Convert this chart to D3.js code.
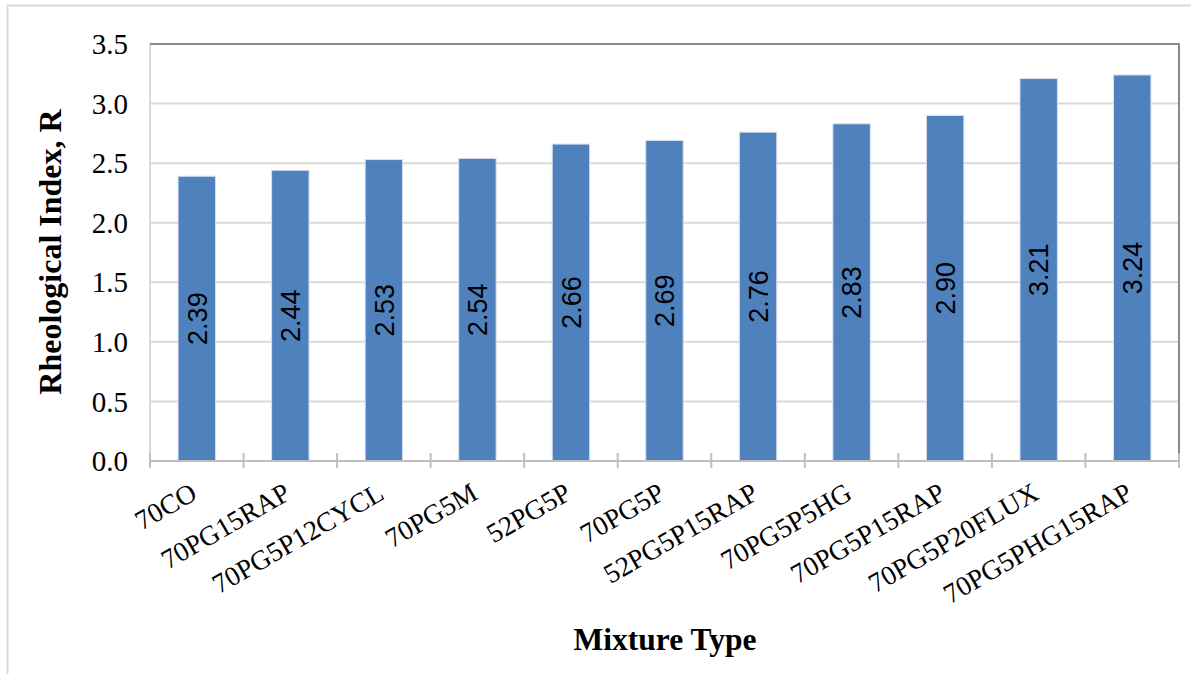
<!DOCTYPE html>
<html>
<head>
<meta charset="utf-8">
<script src="https://cdn.jsdelivr.net/npm/d3@7"></script>
<style>
  html, body { margin: 0; padding: 0; background: #fff; }
  svg { display: block; }
</style>
</head>
<body>
<svg id="chart" width="1191" height="674"></svg>
<script>
const categories = ["70CO", "70PG15RAP", "70PG5P12CYCL", "70PG5M", "52PG5P", "70PG5P", "52PG5P15RAP", "70PG5P5HG", "70PG5P15RAP", "70PG5P20FLUX", "70PG5PHG15RAP"];
const values = [2.39, 2.44, 2.53, 2.54, 2.66, 2.69, 2.76, 2.83, 2.90, 3.21, 3.24];
const yTicks = [0.0, 0.5, 1.0, 1.5, 2.0, 2.5, 3.0, 3.5];
const yTitle = "Rheological Index, R";
const xTitle = "Mixture Type";

const svg = d3.select("#chart");
const W = 1191, H = 674;
const plot = { left: 150, right: 1179, top: 44, bottom: 461 };

// outer chart border
svg.append("rect")
  .attr("x", 7.5).attr("y", 5.5)
  .attr("width", W + 20).attr("height", H + 20)
  .attr("fill", "#fff").attr("stroke", "#d9d9d9").attr("stroke-width", 2);

const x = d3.scaleBand().domain(categories)
  .range([plot.left, plot.right]).paddingInner(0.6).paddingOuter(0.3);
const xIdx = d3.scaleLinear().domain([0, categories.length]).range([plot.left, plot.right]);
const y = d3.scaleLinear().domain([0, 3.5]).range([plot.bottom, plot.top]);

// gridlines
svg.append("g").selectAll("line").data(yTicks.filter(t => t > 0 && t < 3.5)).join("line")
  .attr("x1", plot.left).attr("x2", plot.right)
  .attr("y1", d => y(d)).attr("y2", d => y(d))
  .attr("stroke", "#d9d9d9").attr("stroke-width", 2);

// left border of plot area (light)
svg.append("line").attr("x1", plot.left).attr("x2", plot.left)
  .attr("y1", plot.top).attr("y2", plot.bottom)
  .attr("stroke", "#d9d9d9").attr("stroke-width", 2);

// bars
svg.append("g").selectAll("rect").data(values).join("rect")
  .attr("x", (d, i) => x(categories[i]))
  .attr("width", x.bandwidth())
  .attr("y", d => y(d))
  .attr("height", d => y(0) - y(d))
  .attr("fill", "#4f81bd")
  .attr("stroke", "#d6e0ef").attr("stroke-width", 1);

// data labels
svg.append("g").selectAll("text").data(values).join("text")
  .attr("transform", (d, i) => `translate(${x(categories[i]) + x.bandwidth() / 2}, ${(y(d) + y(0)) / 2}) rotate(-90)`)
  .attr("text-anchor", "middle")
  .attr("dy", "0.36em")
  .attr("font-family", "Liberation Sans, Arial, sans-serif")
  .attr("font-size", 27)
  .attr("fill", "#000")
  .text(d => d.toFixed(2));

// top & right border of plot area (darker)
svg.append("path")
  .attr("d", `M${plot.left},${plot.top}H${plot.right}V${plot.bottom}`)
  .attr("fill", "none").attr("stroke", "#898989").attr("stroke-width", 2);

// x axis line
svg.append("line").attr("x1", plot.left).attr("x2", plot.right)
  .attr("y1", plot.bottom).attr("y2", plot.bottom)
  .attr("stroke", "#bfbfbf").attr("stroke-width", 2);

// x ticks (crossing)
svg.append("g").selectAll("line").data(d3.range(categories.length + 1)).join("line")
  .attr("x1", d => xIdx(d)).attr("x2", d => xIdx(d))
  .attr("y1", plot.bottom - 8).attr("y2", plot.bottom + 7)
  .attr("stroke", "#bfbfbf").attr("stroke-width", 2);

// y tick labels
svg.append("g").selectAll("text").data(yTicks).join("text")
  .attr("x", 128).attr("y", d => y(d))
  .attr("dy", "0.35em")
  .attr("text-anchor", "end")
  .attr("font-family", "Liberation Serif, Times New Roman, serif")
  .attr("font-size", 29)
  .attr("fill", "#000")
  .text(d => d.toFixed(1));

// x tick labels
svg.append("g").selectAll("text").data(categories).join("text")
  .attr("transform", d => `translate(${x(d) + x.bandwidth() / 2 + 2}, 498) rotate(-30)`)
  .attr("text-anchor", "end")
  .attr("font-family", "Liberation Serif, Times New Roman, serif")
  .attr("font-size", 27.5)
  .attr("fill", "#000")
  .text(d => d);

// axis titles
svg.append("text")
  .attr("transform", `translate(61, 252) rotate(-90)`)
  .attr("text-anchor", "middle")
  .attr("font-family", "Liberation Serif, Times New Roman, serif")
  .attr("font-size", 32).attr("font-weight", "bold")
  .attr("fill", "#000")
  .text(yTitle);

svg.append("text")
  .attr("x", 665).attr("y", 650)
  .attr("text-anchor", "middle")
  .attr("font-family", "Liberation Serif, Times New Roman, serif")
  .attr("font-size", 31.5).attr("font-weight", "bold")
  .attr("fill", "#000")
  .text(xTitle);
</script>
</body>
</html>
